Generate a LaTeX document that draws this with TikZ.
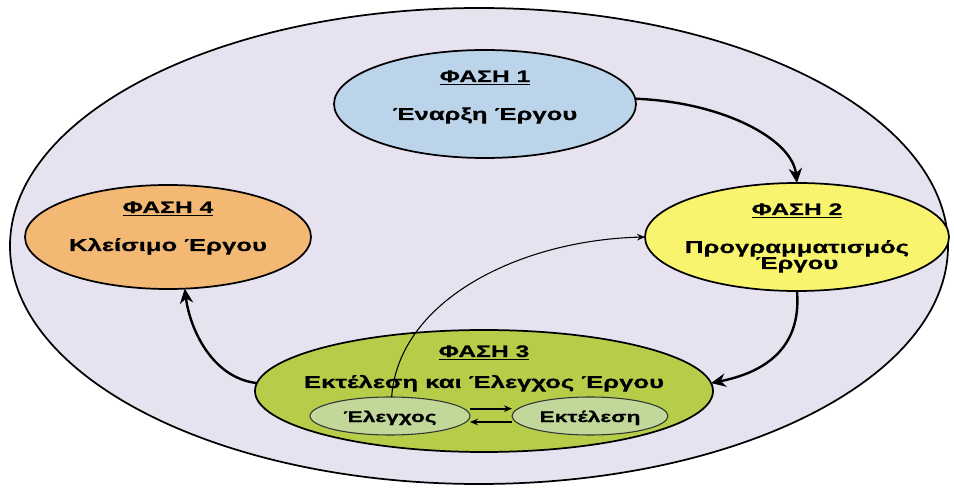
\documentclass[tikz,border=0pt]{standalone}
\usepackage{fontspec}
\newfontfamily\grfont[FakeStretch=1.48,FakeBold=0.6]{Liberation Sans}
\usetikzlibrary{shapes.geometric,arrows.meta}
\definecolor{outerfill}{HTML}{E6E2EF}
\definecolor{p1fill}{HTML}{BCD4EA}
\definecolor{p2fill}{HTML}{F8F46E}
\definecolor{p3fill}{HTML}{B6CD4A}
\definecolor{p4fill}{HTML}{F3B874}
\definecolor{infill}{HTML}{C2D89A}
\tikzset{
  phase/.style={ellipse, draw=black, line width=1.3pt, inner sep=0pt, outer sep=0pt},
  inner/.style={ellipse, draw=black!80, line width=0.8pt, inner sep=0pt, outer sep=0pt, fill=infill},
  ttl/.style={anchor=base, font=\grfont\bfseries\fontsize{12.5}{13}\selectfont},
  bodytxt/.style={anchor=base, font=\grfont\bfseries\fontsize{13}{14}\selectfont},
  smalltxt/.style={anchor=base, font=\grfont\bfseries\fontsize{11.5}{12}\selectfont},
  bigarrow/.style={line width=1.8pt, -{Stealth[length=11pt,width=10pt]}},
  thinarrow/.style={line width=0.8pt, -{Stealth[length=6pt,width=5pt]}},
  midarrow/.style={line width=1.4pt, -{Stealth[length=6pt,width=5pt]}}
}
\begin{document}
\begin{tikzpicture}[x=0.75pt,y=-0.75pt]
\useasboundingbox (0,0) rectangle (954,488);
\fill[white] (0,0) rectangle (954,488);
\node[ellipse, draw=black, line width=1.3pt, fill=outerfill, minimum width=703.5pt, minimum height=357pt, inner sep=0pt] (outer) at (479,246) {};
% phases
\node[phase, fill=p1fill, minimum width=226.5pt, minimum height=81pt] (P1) at (485,104) {};
\node[phase, fill=p2fill, minimum width=228pt, minimum height=81pt] (P2) at (797,237) {};
\node[phase, fill=p3fill, minimum width=343.5pt, minimum height=91.5pt] (P3) at (484,391) {};
\node[phase, fill=p4fill, minimum width=214.5pt, minimum height=78pt] (P4) at (168,237) {};
\node[inner, minimum width=120pt, minimum height=28.5pt] (E1) at (390,416) {};
\node[inner, minimum width=117pt, minimum height=28.5pt] (E2) at (590,416) {};
% texts
\node[ttl] (t1) at (485,82) {\underline{ΦΑΣΗ 1}};
\node[bodytxt] (b1) at (485,120) {Έναρξη Έργου};
\node[ttl] (t2) at (797,215) {\underline{ΦΑΣΗ 2}};
\node[bodytxt] (b2a) at (797,253) {Προγραμματισμός};
\node[bodytxt] (b2b) at (797,269) {Έργου};
\node[ttl] (t3) at (484,357) {\underline{ΦΑΣΗ 3}};
\node[bodytxt] (b3) at (484,388) {Εκτέλεση και Έλεγχος Έργου};
\node[ttl] (t4) at (168,213) {\underline{ΦΑΣΗ 4}};
\node[bodytxt] (b4) at (168,251) {Κλείσιμο Έργου};
\node[smalltxt] (e1t) at (390,422) {Έλεγχος};
\node[smalltxt] (e2t) at (590,422) {Εκτέλεση};
% arrows
\draw[bigarrow] (P1.2) .. controls +(85,3) and +(-5,-45) .. (P2.north);
\draw[bigarrow] (P2.south) .. controls +(5,60) and +(50,-10) .. (P3.2);
\draw[bigarrow] (P3.178) .. controls +(-45,-5) and +(5,40) .. (P4.-72);
\draw[thinarrow] (E1.85) .. controls +(7,-97) and +(-125,3) .. (P2.180);
\draw[midarrow] ([yshift=5.5pt]E1.east) -- ([yshift=5.5pt]E2.west);
\draw[midarrow] ([yshift=-4.5pt]E2.west) -- ([yshift=-4.5pt]E1.east);
\end{tikzpicture}
\end{document}
